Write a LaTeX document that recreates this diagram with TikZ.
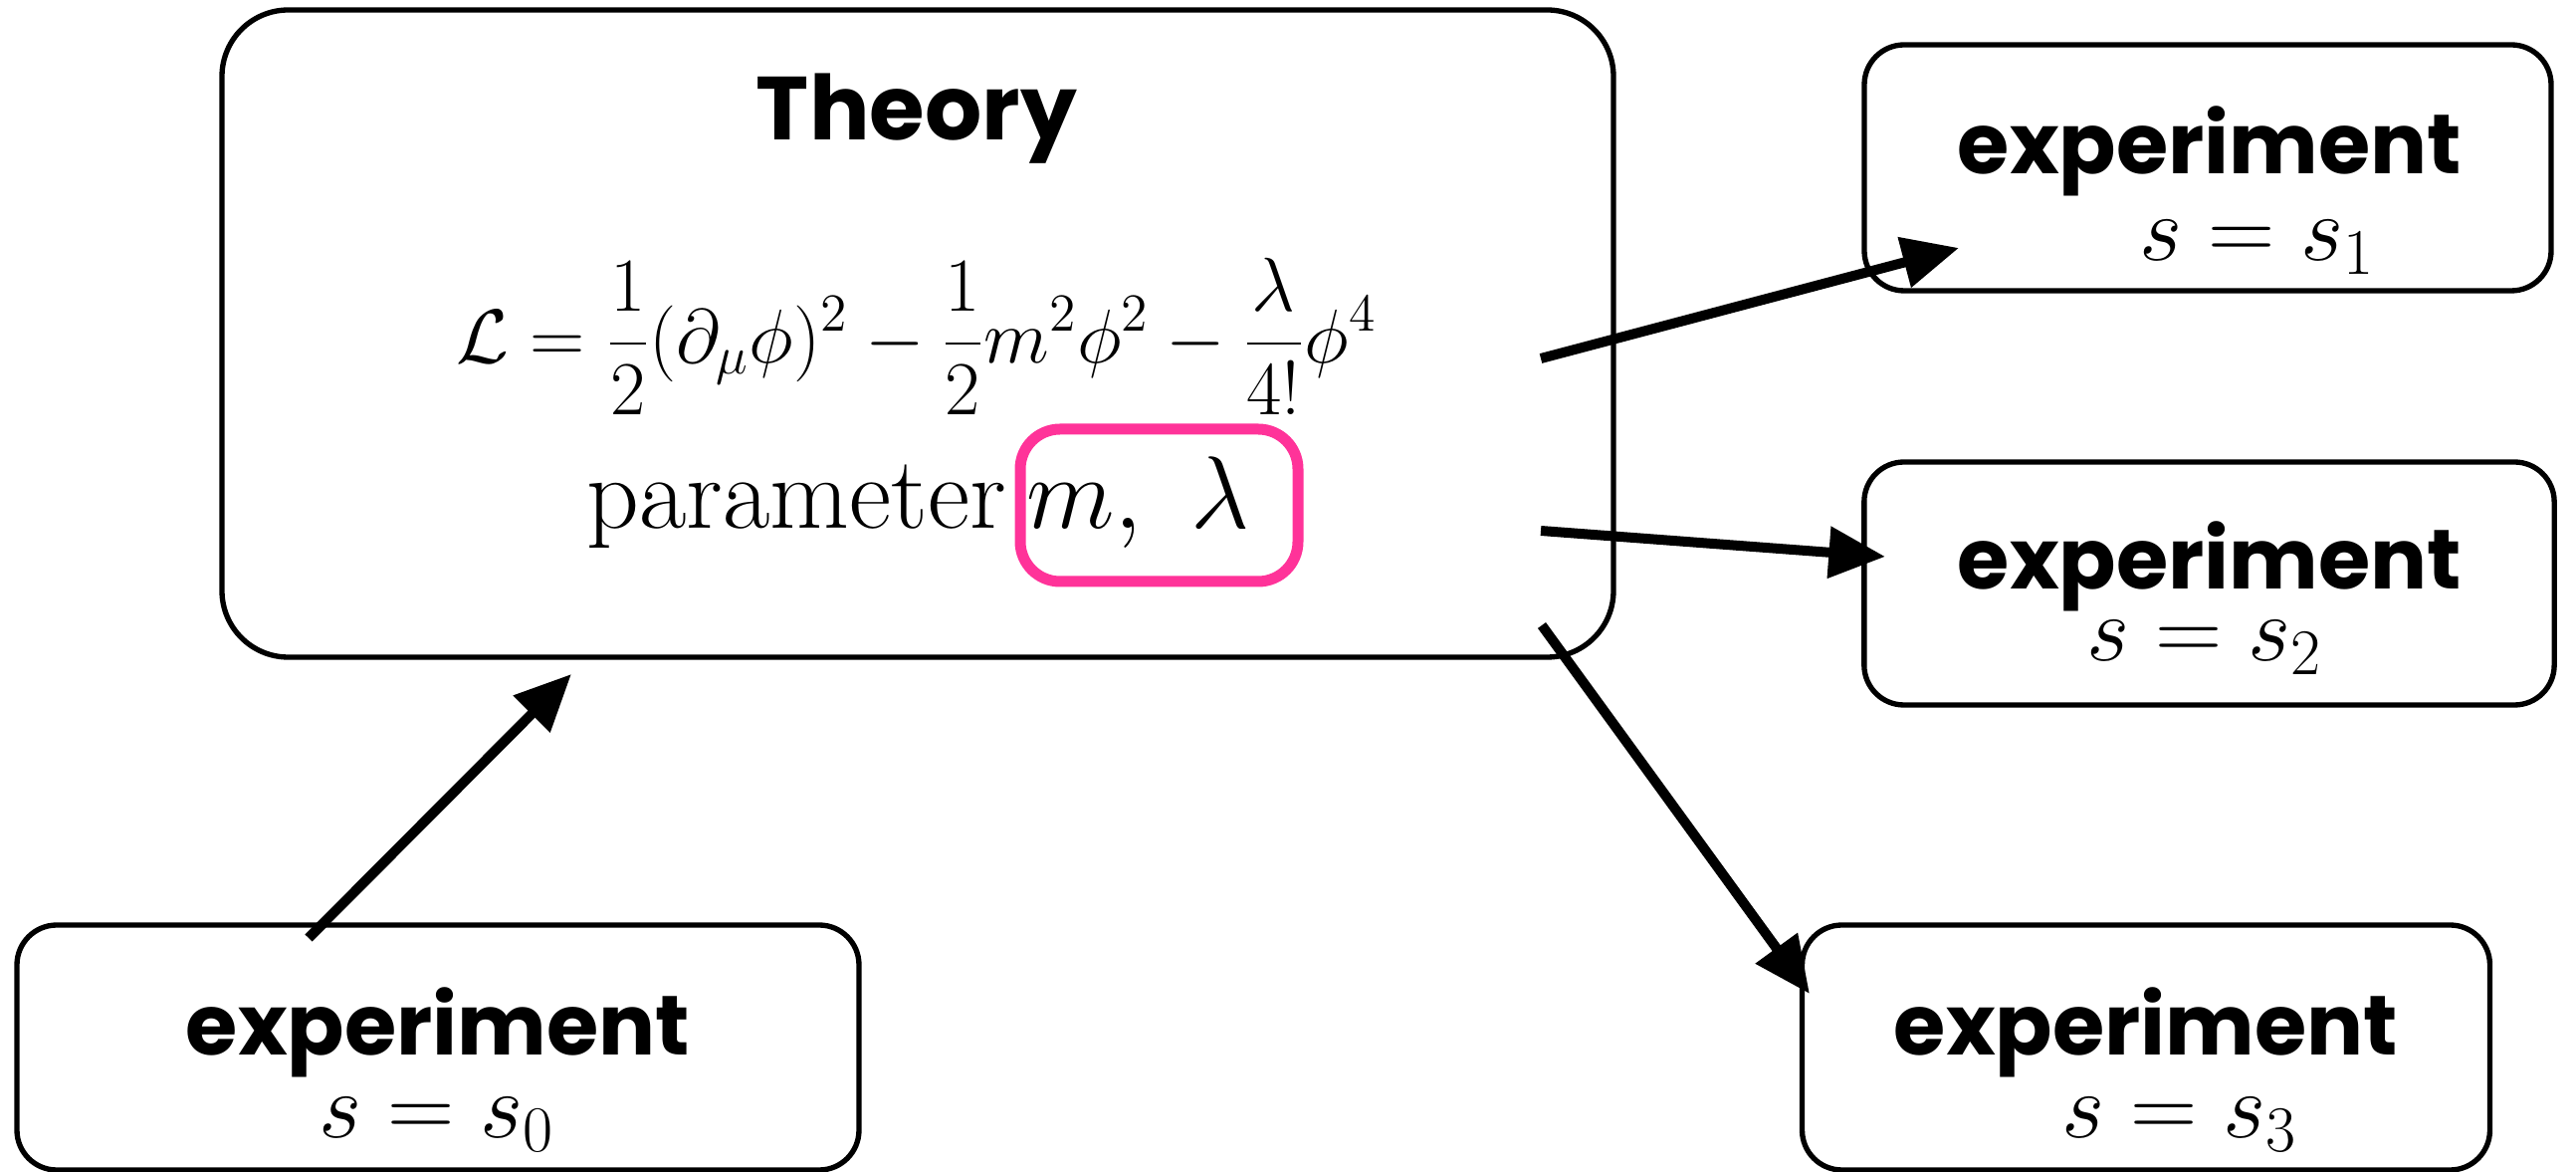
\RequirePackage{fix-cm}
\documentclass[tikz,border=0pt]{standalone}
\usepackage{fontspec}
\newfontfamily\comicfont{Poppins}
\usetikzlibrary{arrows.meta}
\definecolor{hotpink}{RGB}{255,51,153}
\begin{document}
\begin{tikzpicture}[x=0.3pt,y=-0.3pt,
  box/.style={draw, line width=1.6pt, rounded corners=12pt, inner sep=0pt},
  lbl/.style={font=\fontsize{25.4}{30}\selectfont\comicfont\bfseries, anchor=base, inner sep=0pt},
  mth/.style={font=\fontsize{28}{34}\selectfont, anchor=base, inner sep=0pt},
  arr/.style={line width=3pt, -{Triangle[length=17pt,width=15pt]}}]
\useasboundingbox (0,0) rectangle (2588,1177);
% boxes
\node[box, rounded corners=20pt, minimum width=419.4pt, minimum height=195pt] (theory) at (922,335) {};
\node[box, minimum width=207pt, minimum height=74.1pt] (exp1) at (2218,168.5) {};
\node[box, minimum width=208pt, minimum height=73.2pt] (exp2) at (2219.5,586) {};
\node[box, minimum width=253.8pt, minimum height=73.8pt] (exp0) at (440,1052) {};
\node[box, minimum width=207.3pt, minimum height=73.8pt] (exp3) at (2156,1052) {};
\node[draw=hotpink, line width=3.3pt, rounded corners=12pt, minimum width=83.7pt, minimum height=45.9pt, inner sep=0pt] (pbox) at (1164.5,507.5) {};
% texts
\node[lbl, font=\fontsize{27}{32}\selectfont\comicfont\bfseries] (th) at (921,141) {Theory};
\node[font=\fontsize{23}{28}\selectfont, inner sep=0pt] (eq) at (921,338)
  {$\displaystyle \mathcal{L}=\frac{1}{2}(\partial_\mu\phi)^2-\frac{1}{2}m^2\phi^2-\frac{\lambda}{4!}\phi^4$};
\node[mth, font=\fontsize{31}{37}\selectfont, anchor=base west] (par) at (589,531) {parameter\hspace{0.2em}$m,\ \lambda$};
\node[lbl] (e1) at (2220,175) {experiment};
\node[mth] (s1) at (2268,262) {$s=s_1$};
\node[lbl] (e2) at (2220,592) {experiment};
\node[mth] (s2) at (2215,664) {$s=s_2$};
\node[lbl] (e0) at (440,1060) {experiment};
\node[mth] (s0) at (439,1143) {$s=s_0$};
\node[lbl] (e3) at (2156,1060) {experiment};
\node[mth] (s3) at (2190,1143) {$s=s_3$};
% arrows
\coordinate (a0s) at (310,942);
\coordinate (a0e) at (574,677);
\coordinate (a1s) at (1548,360);
\coordinate (a1e) at (1968,249);
\coordinate (a2s) at (1548,533);
\coordinate (a2e) at (1894,559);
\coordinate (a3s) at (1549,628);
\coordinate (a3e) at (1818,998);
\draw[arr] (a0s) -- (a0e);
\draw[arr] (a1s) -- (a1e);
\draw[arr] (a2s) -- (a2e);
\draw[arr] (a3s) -- (a3e);
\end{tikzpicture}
\end{document}
